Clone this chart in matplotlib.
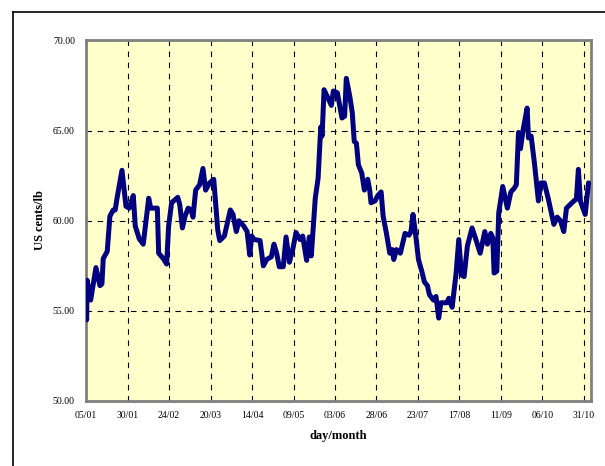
import matplotlib
matplotlib.use("Agg")
import matplotlib.pyplot as plt
from matplotlib.lines import Line2D

# ---- data (day of year 2000, price in US cents/lb) ----
days = [5.3, 5.6, 7.7, 10.9, 13.3, 14.5, 15.3, 17.7, 19.3, 21.3, 22.5, 23.7, 26.6, 29.0,
        31.0, 33.4, 34.6, 37.0, 39.4, 42.7, 43.9, 47.9, 48.7, 51.5, 53.5, 54.7, 56.5,
        60.2, 61.4, 63.0, 64.6, 66.5, 68.2, 69.4, 71.0, 73.4, 75.4, 77.0, 79.4, 81.9,
        84.3, 85.5, 88.3, 91.9, 93.5, 95.5, 97.1, 100.0, 102.0, 103.6, 104.8, 106.3,
        109.8, 111.8, 113.8, 116.6, 118.2, 119.8, 121.4, 123.8, 125.5, 127.5, 129.5,
        131.5, 133.9, 135.5, 137.9, 139.5, 140.7, 143.1, 144.8, 146.4, 147.2, 148.4,
        150.8, 152.8, 154.0, 156.4, 159.2, 160.8, 161.8, 163.9, 165.4, 166.6, 167.9,
        169.1, 171.1, 172.7, 174.7, 175.9, 176.7, 179.1, 180.8, 182.8, 184.0, 186.0,
        188.0, 189.6, 190.4, 192.0, 194.4, 197.2, 199.6, 200.8, 202.0, 203.7, 205.3,
        207.3, 208.9, 210.7, 211.9, 214.3, 215.9, 217.5, 218.8, 222.4, 223.6, 225.6,
        228.0, 229.6, 231.2, 232.8, 234.8, 237.6, 239.6, 242.5, 245.3, 246.9, 248.9,
        250.1, 250.9, 252.5, 253.7, 256.1, 258.9, 261.0, 263.0, 264.3, 265.6, 266.8,
        268.4, 270.8, 271.6, 273.2, 275.2, 277.6, 279.2, 281.2, 283.6, 286.9, 288.9,
        290.9, 292.9, 294.5, 299.0, 300.5, 301.7, 302.9, 305.8, 307.8]
prices = [54.5, 56.7, 55.6, 57.4, 56.4, 56.5, 57.9, 58.3, 60.25, 60.6, 60.6, 61.3, 62.8, 60.8,
          60.7, 61.4, 59.7, 59.0, 58.7, 61.25, 60.7, 60.7, 58.2, 57.9, 57.6, 59.7, 61.0,
          61.3, 60.9, 59.6, 60.25, 60.7, 60.6, 60.2, 61.7, 62.0, 62.9, 61.7, 62.1, 62.3,
          59.5, 58.9, 59.15, 60.6, 60.35, 59.4, 60.0, 59.7, 59.4, 58.1, 59.15, 58.96,
          58.9, 57.5, 57.85, 58.0, 58.7, 58.2, 57.45, 57.45, 59.1, 57.7, 58.4,
          59.35, 58.96, 59.15, 57.8, 59.1, 58.05, 61.25, 62.35, 65.2, 64.7, 67.27,
          66.8, 66.4, 67.2, 67.1, 65.7, 65.8, 67.9, 66.9, 66.0, 64.4, 64.3,
          63.1, 62.65, 61.7, 62.3, 61.7, 61.0, 61.1, 61.4, 61.6, 60.25, 59.3,
          58.2, 58.4, 57.85, 58.4, 58.2, 59.3, 59.2, 59.4, 60.35, 59.15, 57.85,
          57.2, 56.6, 56.4, 55.9, 55.6, 55.8, 54.6, 55.45, 55.45, 55.7, 55.2,
          57.1, 58.96, 57.0, 56.9, 58.6, 59.6, 59.05, 58.2, 59.4, 58.7, 59.3,
          59.05, 57.1, 57.2, 60.45, 61.9, 60.7, 61.6, 61.8, 62.0, 64.9, 64.0,
          65.05, 66.25, 64.6, 64.7, 63.2, 61.1, 62.1, 62.1, 61.2, 59.8, 60.2,
          60.0, 59.4, 60.7, 61.1, 61.2, 62.85, 61.1, 60.35, 62.1]

tick_days = [5, 30, 55, 80, 105, 130, 155, 180, 205, 230, 255, 280, 305]
tick_labels = ["05/01", "30/01", "24/02", "20/03", "14/04", "09/05", "03/06",
               "28/06", "23/07", "17/08", "11/09", "06/10", "31/10"]
y_ticks = [50, 55, 60, 65, 70]

plt.rcParams['font.family'] = ['Liberation Serif', 'DejaVu Serif']

W, H = 605, 466
fig = plt.figure(figsize=(W / 100, H / 100), dpi=100)
fig.patch.set_facecolor("white")

ax = fig.add_axes([86 / W, 1 - 401 / H, 505 / W, 360.5 / H])
ax.set_facecolor("#FFFFCC")

ax.plot(days, prices, color="#000080", linewidth=3.6, solid_joinstyle="round",
        solid_capstyle="round", zorder=3)

ax.set_xlim(4.9, 309.3)
ax.set_ylim(50, 70)

ax.set_xticks(tick_days)
ax.set_xticklabels(tick_labels)
ax.set_yticks(y_ticks)
ax.set_yticklabels([f"{v:.2f}" for v in y_ticks])
ax.tick_params(axis="both", length=0, labelsize=7, colors="black")
ax.tick_params(axis="y", pad=8)
ax.tick_params(axis="x", pad=7)

# dashed gridlines
for d in tick_days[1:]:
    ax.axvline(d, color="black", linestyle=(0, (5, 5)), linewidth=0.8, zorder=1)
for v in y_ticks[1:-1]:
    ax.axhline(v, color="black", linestyle=(0, (5, 5)), linewidth=0.8, zorder=1)

for s in ax.spines.values():
    s.set_color("#808080")
    s.set_linewidth(2)

fig.text(40 / W, 1 - 220 / H, "US cents/lb", rotation=90, ha="center", va="center",
         fontsize=9, fontweight="bold")
fig.text(338 / W, 1 - 436 / H, "day/month", ha="center", va="center",
         fontsize=9, fontweight="bold")

# outer frame (cut off at right and bottom)
fig.add_artist(Line2D([13 / W, 1.0], [1 - 12 / H, 1 - 12 / H], color="black",
                      linewidth=1.2, transform=fig.transFigure))
fig.add_artist(Line2D([13 / W, 13 / W], [1 - 12 / H, 0.0], color="black",
                      linewidth=1.2, transform=fig.transFigure))

fig.savefig("out.png", dpi=100)
